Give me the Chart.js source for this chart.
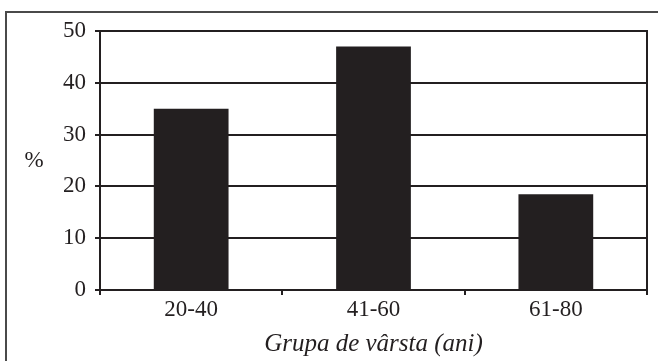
<!DOCTYPE html>
<html>
<head>
<meta charset="utf-8">
<script src="https://cdn.jsdelivr.net/npm/chart.js@4.4.1/dist/chart.umd.min.js"></script>
<style>
  html, body { margin: 0; padding: 0; background: #fff; }
  #wrap { width: 658px; height: 361px; }
</style>
</head>
<body>
<div id="wrap"><canvas id="chart" width="658" height="361"></canvas></div>
<script>
// data
const categories = ["20-40", "41-60", "61-80"];
const percentValues = [35, 47, 18.5];
const yTicks = [0, 10, 20, 30, 40, 50];
const xTitle = "Grupa de vârsta (ani)";
const yTitle = "%";

const ink = "#231f20";
const serif = "'Liberation Serif', 'Times New Roman', serif";

// frame around the figure and the horizontal "%" label
const figureExtras = {
    id: "figureExtras",
    beforeDraw(chart) {
        const ctx = chart.ctx;
        ctx.save();
        ctx.strokeStyle = "#4a4a4a";
        ctx.lineWidth = 2;
        ctx.strokeRect(6, 12, 720, 420);
        ctx.restore();
    },
    afterDraw(chart) {
        const { ctx, chartArea } = chart;
        ctx.save();
        ctx.fillStyle = ink;
        ctx.font = "23px " + serif;
        ctx.textAlign = "center";
        ctx.textBaseline = "middle";
        ctx.fillText(yTitle, 34, (chartArea.top + chartArea.bottom) / 2);
        ctx.restore();
    }
};

const ctx = document.getElementById("chart").getContext("2d");
new Chart(ctx, {
    type: "bar",
    data: {
        labels: categories,
        datasets: [{
            data: percentValues,
            backgroundColor: ink,
            borderWidth: 0,
            barPercentage: 0.41,
            categoryPercentage: 1
        }]
    },
    options: {
        responsive: false,
        animation: false,
        devicePixelRatio: 1,
        layout: { padding: { top: 31, right: 11, bottom: 2, left: 0 } },
        plugins: { legend: { display: false }, tooltip: { enabled: false } },
        scales: {
            x: {
                afterFit: s => { s.height = 69; },
                grid: { offset: true, drawOnChartArea: false, color: ink, lineWidth: 2, tickLength: 5 },
                border: { color: ink, width: 2 },
                ticks: { color: ink, padding: 1, font: { family: serif, size: 23 } },
                title: {
                    display: true, text: xTitle, color: ink, padding: 0,
                    font: { family: serif, size: 25, style: "italic" }
                }
            },
            y: {
                min: yTicks[0],
                max: yTicks[yTicks.length - 1],
                afterFit: s => { s.width = 100; },
                afterBuildTicks: s => { s.ticks = yTicks.map(v => ({ value: v })); },
                grid: { color: ink, lineWidth: 2, tickLength: 5 },
                border: { color: ink, width: 2 },
                ticks: { color: ink, padding: 9, font: { family: serif, size: 23 } }
            },
            y2: {
                position: "right",
                min: yTicks[0],
                max: yTicks[yTicks.length - 1],
                afterFit: s => { s.width = 0; },
                grid: { drawOnChartArea: false, drawTicks: false },
                border: { color: ink, width: 2 },
                ticks: { display: false }
            }
        }
    },
    plugins: [figureExtras]
});
</script>
</body>
</html>
